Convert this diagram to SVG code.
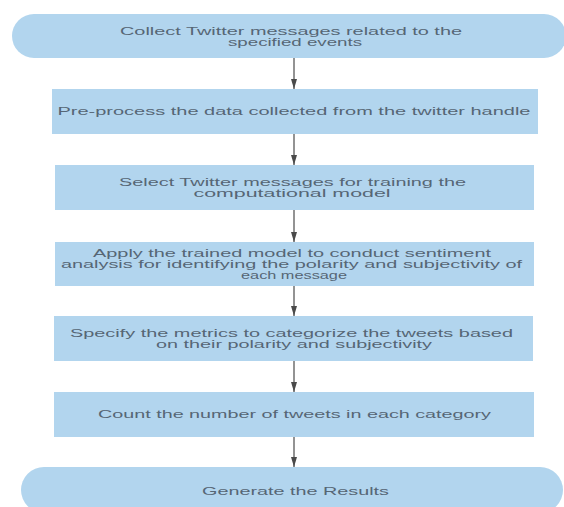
<svg xmlns="http://www.w3.org/2000/svg" width="564" height="507" viewBox="0 0 564 507">
<defs>
<style>
.box{fill:#b2d5ee;stroke:none}
.t{font-family:"Liberation Sans",Arial,sans-serif;font-size:10.5px;fill:#566675;text-anchor:middle}
.c{stroke:#6f6f6f;stroke-width:1.5;fill:none}
</style>
<marker id="ah" viewBox="0 0 10 6" refX="10" refY="3" markerWidth="10" markerHeight="6" markerUnits="userSpaceOnUse" orient="auto">
<path d="M0,0 L10,3 L0,6 Z" fill="#4a4a4a"/>
</marker>
</defs>
<rect width="564" height="507" fill="#ffffff"/>
<g id="connectors">
<line class="c" x1="294" y1="58" x2="294" y2="89" marker-end="url(#ah)"/>
<line class="c" x1="294" y1="134" x2="294" y2="165" marker-end="url(#ah)"/>
<line class="c" x1="294" y1="210" x2="294" y2="242" marker-end="url(#ah)"/>
<line class="c" x1="294" y1="286" x2="294" y2="316" marker-end="url(#ah)"/>
<line class="c" x1="294" y1="361" x2="294" y2="392" marker-end="url(#ah)"/>
<line class="c" x1="294" y1="437" x2="294" y2="467" marker-end="url(#ah)"/>
</g>
<g id="n1">
<rect class="box" x="12" y="14" width="554" height="44" rx="22" ry="22"/>
<text class="t" x="291" y="35" textLength="342" lengthAdjust="spacingAndGlyphs">Collect Twitter messages related to the</text>
<text class="t" x="295" y="45.5" textLength="134" lengthAdjust="spacingAndGlyphs">specified events</text>
</g>
<g id="n2">
<rect class="box" x="52" y="89" width="486" height="45"/>
<text class="t" x="294" y="115" textLength="473" lengthAdjust="spacingAndGlyphs">Pre-process the data collected from the twitter handle</text>
</g>
<g id="n3">
<rect class="box" x="55" y="165" width="479" height="45"/>
<text class="t" x="292.5" y="185.5" textLength="347" lengthAdjust="spacingAndGlyphs">Select Twitter messages for training the</text>
<text class="t" x="292" y="196.5" textLength="197" lengthAdjust="spacingAndGlyphs">computational model</text>
</g>
<g id="n4">
<rect class="box" x="55" y="242" width="479" height="44"/>
<text class="t" x="292" y="257" textLength="398" lengthAdjust="spacingAndGlyphs">Apply the trained model to conduct sentiment</text>
<text class="t" x="291.5" y="268" textLength="461" lengthAdjust="spacingAndGlyphs">analysis for identifying the polarity and subjectivity of</text>
<text class="t" x="294" y="279" textLength="106" lengthAdjust="spacingAndGlyphs">each message</text>
</g>
<g id="n5">
<rect class="box" x="54" y="316" width="479" height="45"/>
<text class="t" x="291.5" y="336.5" textLength="443" lengthAdjust="spacingAndGlyphs">Specify the metrics to categorize the tweets based</text>
<text class="t" x="294" y="347.5" textLength="276" lengthAdjust="spacingAndGlyphs">on their polarity and subjectivity</text>
</g>
<g id="n6">
<rect class="box" x="54" y="392" width="480" height="45"/>
<text class="t" x="294.5" y="418" textLength="393" lengthAdjust="spacingAndGlyphs">Count the number of tweets in each category</text>
</g>
<g id="n7">
<rect class="box" x="21" y="467" width="542" height="46" rx="23" ry="23"/>
<text class="t" x="295.5" y="494.5" textLength="187" lengthAdjust="spacingAndGlyphs">Generate the Results</text>
</g>
</svg>
